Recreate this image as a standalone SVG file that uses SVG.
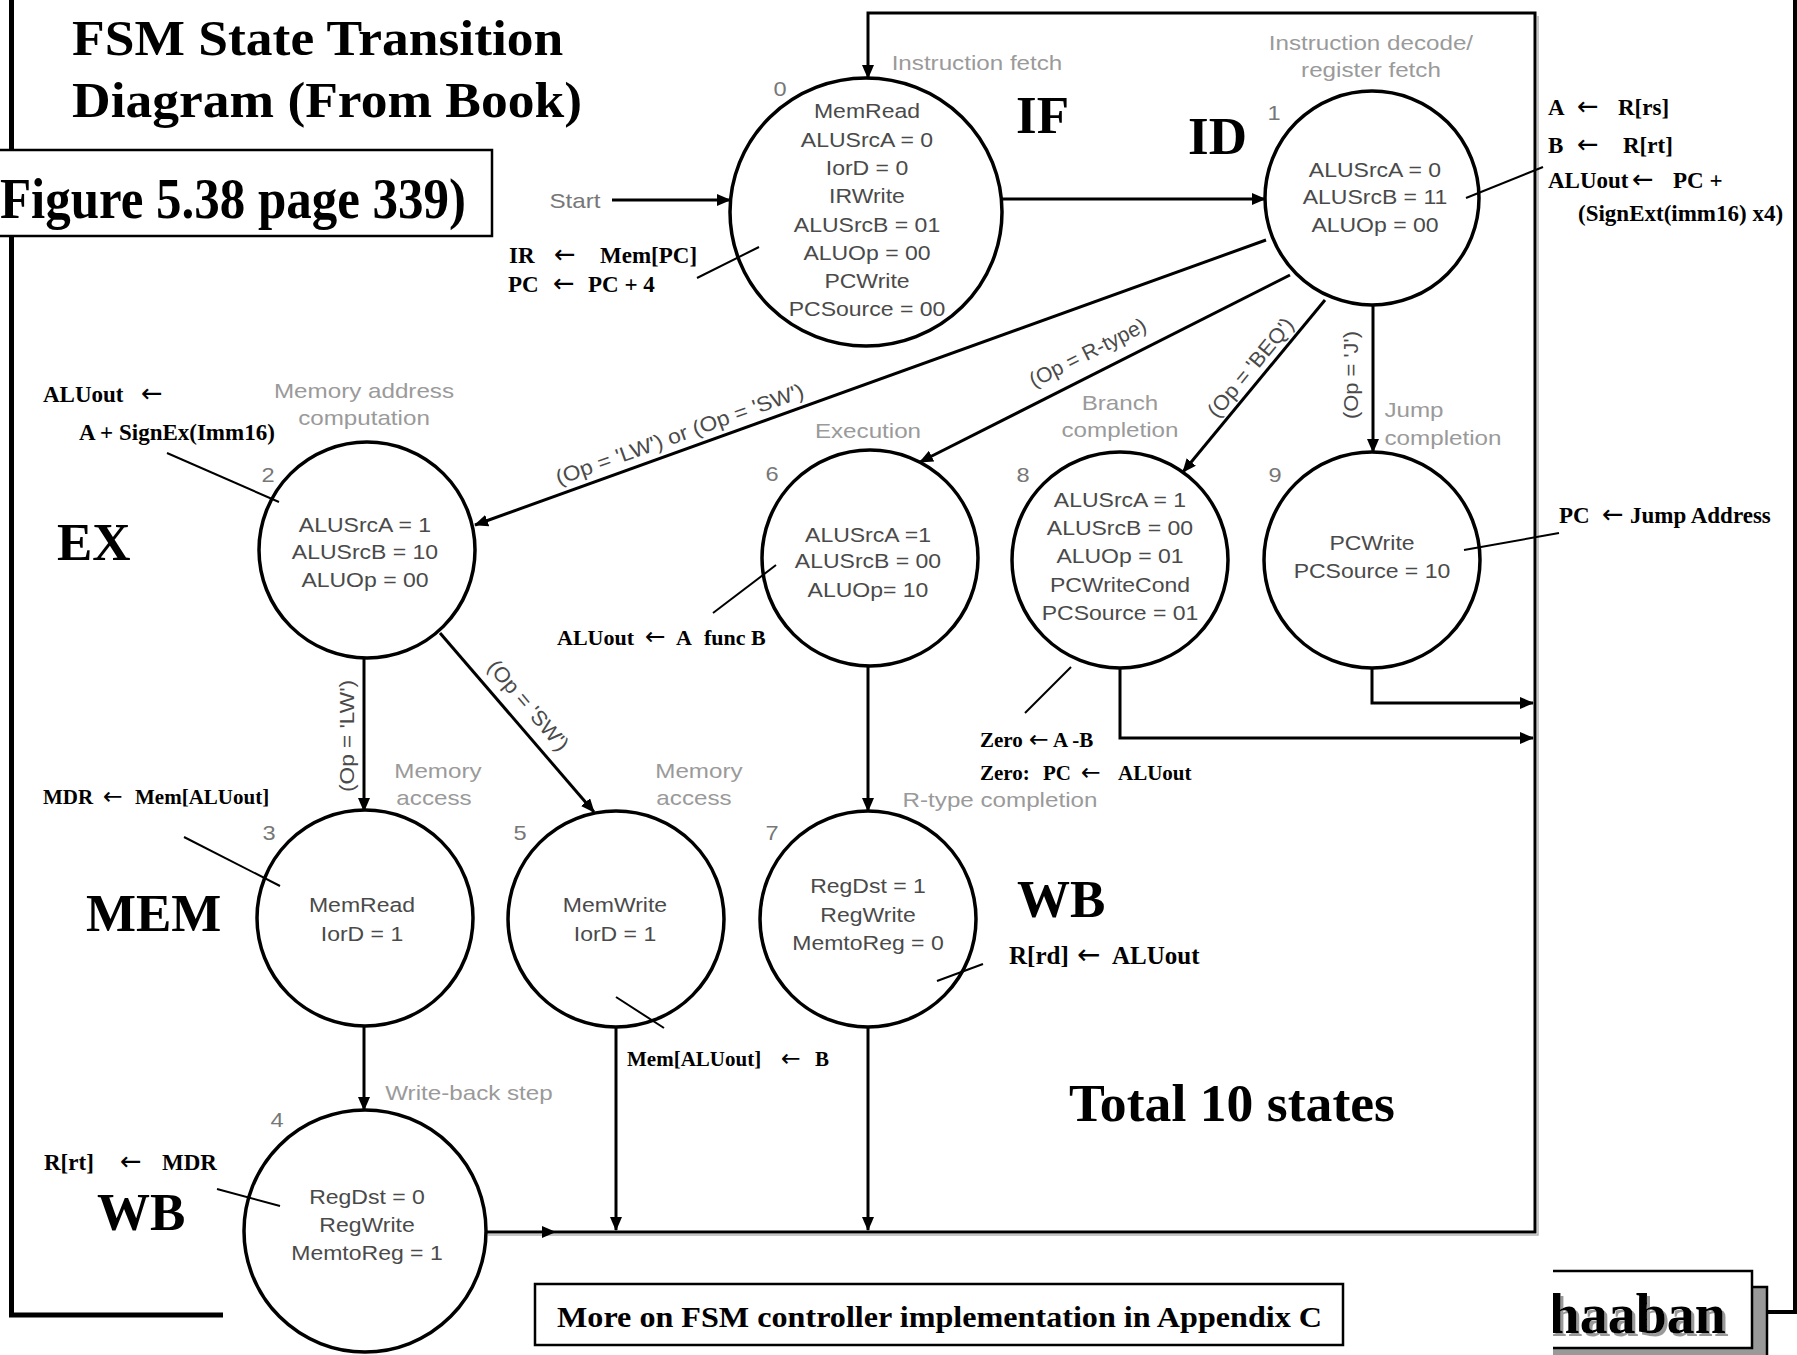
<svg xmlns="http://www.w3.org/2000/svg" width="1797" height="1355" viewBox="0 0 1797 1355">
  <defs>
    <style>
      .st{font-family:"Liberation Sans",Arial,sans-serif;font-size:19.5px;fill:#4a4a4a;text-anchor:middle;transform-box:fill-box;transform-origin:center;transform:scaleX(1.18)}
      .ph{font-family:"Liberation Sans",Arial,sans-serif;font-size:20.5px;fill:#9a9a9a;text-anchor:middle;transform-box:fill-box;transform-origin:center;transform:scaleX(1.18)}
      .num{font-family:"Liberation Sans",Arial,sans-serif;font-size:20px;fill:#777;text-anchor:middle;transform-box:fill-box;transform-origin:center;transform:scaleX(1.18)}
      .cond{font-family:"Liberation Sans",Arial,sans-serif;font-size:21px;fill:#4a4a4a;text-anchor:middle}
      .big{font-family:"Liberation Serif","Times New Roman",serif;font-weight:bold;fill:#000}
      .ann{font-family:"Liberation Serif","Times New Roman",serif;font-weight:bold;font-size:23px;fill:#000}
      .arr{font-family:"DejaVu Sans",sans-serif;font-weight:normal;font-size:1.12em}
      .state{fill:#fff;stroke:#000;stroke-width:3.5}
      .conn{fill:none;stroke:#000;stroke-width:3}
      .ptr{stroke:#000;stroke-width:2}
      .frame{fill:none;stroke:#000}
    </style>
    <marker id="ah" viewBox="0 0 14 12" refX="13" refY="6" markerWidth="14" markerHeight="12" markerUnits="userSpaceOnUse" orient="auto">
      <path d="M0,0 L14,6 L0,12 z" fill="#000"/>
    </marker>
    <clipPath id="clipR"><rect x="1553" y="1200" width="250" height="160"/></clipPath>
    <filter id="tshadow" x="-10%" y="-10%" width="130%" height="130%">
      <feDropShadow dx="3" dy="3" stdDeviation="0" flood-color="#999"/>
    </filter>
  </defs>

  <rect width="1797" height="1355" fill="#fff"/>

  <!-- slide border -->
  <g id="slide-frame">
    <path class="frame" d="M11.5,0 V1315 H223" stroke-width="5"/>
    <path class="frame" d="M1795,0 V1312 H1767" stroke-width="4"/>
  </g>

  <!-- title -->
  <g id="title">
    <text class="big" transform="translate(72 55) scale(1.07 1)" font-size="50">FSM State Transition</text>
    <text class="big" transform="translate(72 117) scale(1.07 1)" font-size="50">Diagram (From Book)</text>
  </g>
  <g id="figure-ref">
    <rect x="-10" y="150" width="502" height="86" fill="#fff" stroke="#000" stroke-width="2.5"/>
    <text class="big" x="0" y="218" font-size="56" textLength="466" lengthAdjust="spacingAndGlyphs">Figure 5.38 page 339)</text>
  </g>

  <!-- connectors -->
  <g id="connectors">
    <path d="M1538,16 V1235 H488" fill="none" stroke="#b5b5b5" stroke-width="1.5"/>
    <path class="conn" d="M612,200 H730" marker-end="url(#ah)"/>
    <path class="conn" d="M1002,199 H1265" marker-end="url(#ah)"/>
    <path class="conn" d="M1266,240 L475,525" marker-end="url(#ah)"/>
    <path class="conn" d="M1290,275 L920,462" marker-end="url(#ah)"/>
    <path class="conn" d="M1325,300 L1183,472" marker-end="url(#ah)"/>
    <path class="conn" d="M1373,305 V452" marker-end="url(#ah)"/>
    <path class="conn" d="M364,658 V811" marker-end="url(#ah)"/>
    <path class="conn" d="M440,633 L594,812" marker-end="url(#ah)"/>
    <path class="conn" d="M868,667 V811" marker-end="url(#ah)"/>
    <path class="conn" d="M364,1026 V1110" marker-end="url(#ah)"/>
    <path class="conn" d="M616,1027 V1230" marker-end="url(#ah)"/>
    <path class="conn" d="M868,1027 V1230" marker-end="url(#ah)"/>
    <path class="conn" d="M485,1232 H1535 V13 H868 V78" marker-end="url(#ah)"/>
    <path d="M542,1226 L556,1232 L542,1238 z" fill="#000"/>
    <path class="conn" d="M1120,668 V738 H1533" marker-end="url(#ah)"/>
    <path class="conn" d="M1372,668 V703 H1533" marker-end="url(#ah)"/>

    <text class="ph" x="575" y="208" style="fill:#777">Start</text>

    <text class="cond" transform="translate(682,441) rotate(-19.8)" textLength="262" lengthAdjust="spacingAndGlyphs">(Op = 'LW') or (Op = 'SW')</text>
    <text class="cond" transform="translate(1091,359) rotate(-26.8)" textLength="128" lengthAdjust="spacingAndGlyphs">(Op = R-type)</text>
    <text class="cond" transform="translate(1256,372) rotate(-50.4)" textLength="122" lengthAdjust="spacingAndGlyphs">(Op = 'BEQ')</text>
    <text class="cond" transform="translate(1358,375) rotate(-90)" textLength="88" lengthAdjust="spacingAndGlyphs">(Op = 'J')</text>
    <text class="cond" transform="translate(354,736) rotate(-90)" textLength="112" lengthAdjust="spacingAndGlyphs">(Op = 'LW')</text>
    <text class="cond" transform="translate(523,710) rotate(49.4)" textLength="112" lengthAdjust="spacingAndGlyphs">(Op = 'SW')</text>
  </g>

  <!-- states -->
  <g id="state0">
    <ellipse class="state" cx="866" cy="212" rx="136" ry="134"/>
    <text class="ph" x="977" y="70">Instruction fetch</text>
    <text class="num" x="780" y="96">0</text>
    <text class="st" x="867" y="118">MemRead</text>
    <text class="st" x="867" y="147">ALUSrcA = 0</text>
    <text class="st" x="867" y="175">IorD = 0</text>
    <text class="st" x="867" y="203">IRWrite</text>
    <text class="st" x="867" y="232">ALUSrcB = 01</text>
    <text class="st" x="867" y="260">ALUOp = 00</text>
    <text class="st" x="867" y="288">PCWrite</text>
    <text class="st" x="867" y="316">PCSource = 00</text>
  </g>

  <g id="state1">
    <circle class="state" cx="1372" cy="198" r="107"/>
    <text class="ph" x="1371" y="50">Instruction decode/</text>
    <text class="ph" x="1371" y="77">register fetch</text>
    <text class="num" x="1274" y="120">1</text>
    <text class="st" x="1375" y="177">ALUSrcA = 0</text>
    <text class="st" x="1375" y="204">ALUSrcB = 11</text>
    <text class="st" x="1375" y="232">ALUOp = 00</text>
  </g>

  <g id="state2">
    <circle class="state" cx="367" cy="550" r="108"/>
    <text class="ph" x="364" y="398">Memory address</text>
    <text class="ph" x="364" y="425">computation</text>
    <text class="num" x="268" y="482">2</text>
    <text class="st" x="365" y="532">ALUSrcA = 1</text>
    <text class="st" x="365" y="559">ALUSrcB = 10</text>
    <text class="st" x="365" y="587">ALUOp = 00</text>
  </g>

  <g id="state6">
    <circle class="state" cx="870" cy="558" r="108"/>
    <text class="ph" x="868" y="438">Execution</text>
    <text class="num" x="772" y="481">6</text>
    <text class="st" x="868" y="542">ALUSrcA =1</text>
    <text class="st" x="868" y="568">ALUSrcB = 00</text>
    <text class="st" x="868" y="597">ALUOp= 10</text>
  </g>

  <g id="state8">
    <circle class="state" cx="1120" cy="560" r="108"/>
    <text class="ph" x="1120" y="410">Branch</text>
    <text class="ph" x="1120" y="437">completion</text>
    <text class="num" x="1023" y="482">8</text>
    <text class="st" x="1120" y="507">ALUSrcA = 1</text>
    <text class="st" x="1120" y="535">ALUSrcB = 00</text>
    <text class="st" x="1120" y="563">ALUOp = 01</text>
    <text class="st" x="1120" y="592">PCWriteCond</text>
    <text class="st" x="1120" y="620">PCSource = 01</text>
  </g>

  <g id="state9">
    <circle class="state" cx="1372" cy="560" r="108"/>
    <text class="ph" x="1414" y="417">Jump</text>
    <text class="ph" x="1443" y="445">completion</text>
    <text class="num" x="1275" y="482">9</text>
    <text class="st" x="1372" y="550">PCWrite</text>
    <text class="st" x="1372" y="578">PCSource = 10</text>
  </g>

  <g id="state3">
    <circle class="state" cx="365" cy="918" r="108"/>
    <text class="ph" x="438" y="778">Memory</text>
    <text class="ph" x="434" y="805">access</text>
    <text class="num" x="269" y="840">3</text>
    <text class="st" x="362" y="912">MemRead</text>
    <text class="st" x="362" y="941">IorD = 1</text>
  </g>

  <g id="state5">
    <circle class="state" cx="616" cy="919" r="108"/>
    <text class="ph" x="699" y="778">Memory</text>
    <text class="ph" x="694" y="805">access</text>
    <text class="num" x="520" y="840">5</text>
    <text class="st" x="615" y="912">MemWrite</text>
    <text class="st" x="615" y="941">IorD = 1</text>
  </g>

  <g id="state7">
    <circle class="state" cx="868" cy="919" r="108"/>
    <text class="ph" x="1000" y="807">R-type completion</text>
    <text class="num" x="772" y="840">7</text>
    <text class="st" x="868" y="893">RegDst = 1</text>
    <text class="st" x="868" y="922">RegWrite</text>
    <text class="st" x="868" y="950">MemtoReg = 0</text>
  </g>

  <g id="state4">
    <circle class="state" cx="365" cy="1231" r="121"/>
    <text class="ph" x="469" y="1100">Write-back step</text>
    <text class="num" x="277" y="1127">4</text>
    <text class="st" x="367" y="1204">RegDst = 0</text>
    <text class="st" x="367" y="1232">RegWrite</text>
    <text class="st" x="367" y="1260">MemtoReg = 1</text>
  </g>

  <!-- register-transfer notes with pointer lines -->
  <g id="notes">
    <line class="ptr" x1="697" y1="278" x2="759" y2="247"/>
    <line class="ptr" x1="1543" y1="167" x2="1466" y2="198"/>
    <line class="ptr" x1="167" y1="453" x2="279" y2="502"/>
    <line class="ptr" x1="776" y1="565" x2="713" y2="613"/>
    <line class="ptr" x1="1071" y1="667" x2="1025" y2="713"/>
    <line class="ptr" x1="1559" y1="533" x2="1464" y2="550"/>
    <line class="ptr" x1="184" y1="837" x2="280" y2="886"/>
    <line class="ptr" x1="616" y1="997" x2="664" y2="1028"/>
    <line class="ptr" x1="983" y1="964" x2="937" y2="981"/>
    <line class="ptr" x1="217" y1="1189" x2="280" y2="1206"/>

    <text class="ann" y="263"><tspan x="509">IR</tspan><tspan class="arr" x="554">←</tspan><tspan x="600">Mem[PC]</tspan></text>
    <text class="ann" y="292"><tspan x="508">PC</tspan><tspan class="arr" x="553">←</tspan><tspan x="588">PC + 4</tspan></text>

    <text class="ann" y="115"><tspan x="1548">A</tspan><tspan class="arr" x="1577">←</tspan><tspan x="1618">R[rs]</tspan></text>
    <text class="ann" y="153"><tspan x="1548">B</tspan><tspan class="arr" x="1577">←</tspan><tspan x="1623">R[rt]</tspan></text>
    <text class="ann" y="188"><tspan x="1548">ALUout</tspan><tspan class="arr" x="1632">←</tspan><tspan x="1673">PC +</tspan></text>
    <text class="ann" x="1578" y="221">(SignExt(imm16) x4)</text>

    <text class="ann" y="402"><tspan x="43">ALUout</tspan><tspan class="arr" x="141">←</tspan></text>
    <text class="ann" x="79" y="440">A + SignEx(Imm16)</text>

    <text class="ann" y="645" style="font-size:22px"><tspan x="557">ALUout</tspan><tspan class="arr" x="645">←</tspan><tspan x="676">A</tspan><tspan x="704">func B</tspan></text>

    <text class="ann" y="523"><tspan x="1559">PC</tspan><tspan class="arr" x="1602">←</tspan><tspan x="1630">Jump Address</tspan></text>

    <text class="ann" y="747" style="font-size:21px"><tspan x="980">Zero</tspan><tspan class="arr" x="1029">←</tspan><tspan x="1053">A -B</tspan></text>
    <text class="ann" y="780" style="font-size:21px"><tspan x="980">Zero:</tspan><tspan x="1043">PC</tspan><tspan class="arr" x="1081">←</tspan><tspan x="1118">ALUout</tspan></text>

    <text class="ann" y="804" style="font-size:21px"><tspan x="43">MDR</tspan><tspan class="arr" x="103">←</tspan><tspan x="135">Mem[ALUout]</tspan></text>
    <text class="ann" y="1066" style="font-size:21px"><tspan x="627">Mem[ALUout]</tspan><tspan class="arr" x="781">←</tspan><tspan x="815">B</tspan></text>
    <text class="ann" y="964" style="font-size:25px"><tspan x="1009">R[rd]</tspan><tspan class="arr" x="1077">←</tspan><tspan x="1112">ALUout</tspan></text>
    <text class="ann" y="1170"><tspan x="44">R[rt]</tspan><tspan class="arr" x="120">←</tspan><tspan x="162">MDR</tspan></text>
  </g>

  <!-- pipeline stage names -->
  <g id="stages">
    <text class="big" x="1016" y="133" font-size="53">IF</text>
    <text class="big" x="1188" y="154" font-size="53">ID</text>
    <text class="big" x="57" y="560" font-size="53">EX</text>
    <text class="big" x="86" y="931" font-size="53">MEM</text>
    <text class="big" x="1017" y="917" font-size="53">WB</text>
    <text class="big" x="97" y="1230" font-size="53">WB</text>
    <text class="big" x="1069" y="1121" font-size="53" textLength="326" lengthAdjust="spacingAndGlyphs">Total 10 states</text>
  </g>

  <g id="appendix-note">
    <rect x="535" y="1284" width="808" height="61" fill="#fff" stroke="#000" stroke-width="2.5"/>
    <text class="big" transform="translate(557 1327) scale(1.072 1)" font-size="30">More on FSM controller implementation in Appendix C</text>
  </g>

  <g id="author-tag" clip-path="url(#clipR)">
    <rect x="1500" y="1287" width="267" height="90" fill="#999" stroke="#000" stroke-width="2.5"/>
    <rect x="1500" y="1271" width="252" height="77" fill="#fff" stroke="#000" stroke-width="2.5"/>
    <text class="big" x="1726" y="1333" font-size="56" text-anchor="end" filter="url(#tshadow)">haaban</text>
  </g>
</svg>
